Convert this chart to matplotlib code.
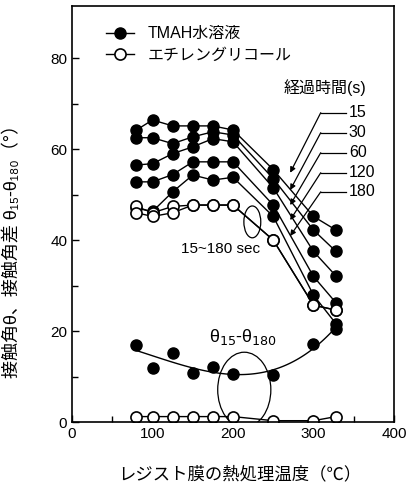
import matplotlib
matplotlib.use("Agg")
import matplotlib.pyplot as plt
import numpy as np
from matplotlib.patches import Ellipse

plt.rcParams['font.family'] = ['Liberation Sans', 'Noto Sans CJK JP', 'DejaVu Sans']
plt.rcParams['axes.unicode_minus'] = False

# heat treatment temperature (degC)
temps = [80, 100, 125, 150, 175, 200, 250, 300, 328]

# TMAH solution contact angle for each elapsed time (s)
tmah_15 = [64.2, 66.4, 65.1, 65.1, 65.1, 64.2, 55.5, 45.2, 42.2]
tmah_30 = [62.5, 62.5, 61.2, 62.7, 63.8, 63.1, 53.5, 42.2, 37.5]
tmah_60 = [56.5, 56.8, 59.0, 60.5, 62.3, 61.6, 51.5, 37.5, 32.1]
tmah_120 = [52.8, 52.8, 54.4, 57.2, 57.2, 57.2, 47.7, 32.0, 26.2]
tmah_180 = [47.0, 46.3, 50.6, 54.3, 53.2, 53.8, 45.2, 27.9, 21.6]

# ethylene glycol, 15~180 s (two nearly identical curves)
eg_a = [47.4, 46.0, 47.4, 47.7, 47.7, 47.7, 40.0, 25.7, 24.6]
eg_b = [46.0, 45.2, 46.0, 47.7, 47.7, 47.7, 40.0, 25.7, 24.6]

# contact angle difference theta15 - theta180
tmah_diff = [16.9, 11.9, 15.1, 10.7, 12.2, 10.5, 10.3, 17.2, 20.5]
eg_diff = [1.2, 1.2, 1.2, 1.2, 1.2, 1.2, 0.3, 0.3, 1.2]

time_labels = ["15", "30", "60", "120", "180"]

fig = plt.figure(figsize=(4.07, 4.84), dpi=100)
ax = fig.add_axes([0.177, 0.128, 0.791, 0.860])

filled = dict(color="black", marker="o", ms=8, lw=1.0, mfc="black", mec="black")
opened = dict(color="black", marker="o", ms=8, lw=1.0, mfc="white", mec="black", mew=1.2)

for s in [tmah_15, tmah_30, tmah_60, tmah_120, tmah_180]:
    ax.plot(temps, s, **filled)
ax.plot(temps, eg_a, **opened)
ax.plot(temps, eg_b, **opened)

# difference: points + smooth trend
ax.plot(temps, tmah_diff, "o", color="black", ms=8)
coef = np.polyfit(temps, tmah_diff, 3)
xs = np.linspace(temps[0], temps[-1], 100)
ax.plot(xs, np.polyval(coef, xs), color="black", lw=1.0)
ax.plot(temps, eg_diff, **opened)

# legend (hand placed like the original)
ax.plot([], [], label="TMAH水溶液", **filled)
ax.plot([], [], label="エチレングリコール", **opened)
ax.legend(loc="upper left", bbox_to_anchor=(0.06, 0.985), frameon=False,
          fontsize=11.5, handlelength=1.8, handletextpad=0.8, labelspacing=0.4)

# elapsed time annotations
ax.text(314, 73.5, "経過時間(s)", fontsize=11.5, ha="center", va="center")
label_y = [68.0, 63.6, 59.2, 54.8, 50.6]
tip_y = [54.8, 51.0, 47.7, 44.4, 40.9]
for lab, ly, ty in zip(time_labels, label_y, tip_y):
    ax.text(344, ly, lab, fontsize=11.5, ha="left", va="center")
    ax.plot([341, 309], [ly, ly], color="black", lw=0.9)
    ax.annotate("", xy=(271, ty), xytext=(309, ly),
                arrowprops=dict(arrowstyle="-|>", color="black", lw=0.9,
                                mutation_scale=8, shrinkA=0, shrinkB=0))

ax.text(185, 38.0, "15~180 sec", fontsize=11, ha="center", va="center")
ax.add_patch(Ellipse((224, 44), 21, 7, fill=False, lw=0.9, ec="black"))
ax.text(212, 18.7, "θ$_{15}$-θ$_{180}$", fontsize=13, ha="center", va="center")
ax.add_patch(Ellipse((214, 7.1), 66, 16.5, fill=False, lw=0.9, ec="black"))

ax.set_xlim(0, 400)
ax.set_ylim(0, 91.5)
ax.set_xticks([0, 100, 200, 300, 400])
ax.set_xticks([50, 150, 250, 350], minor=True)
ax.set_yticks([0, 20, 40, 60, 80])
ax.set_yticks([10, 30, 50, 70], minor=True)
ax.tick_params(which="both", direction="in", labelsize=11, top=False, right=False)
ax.tick_params(which="major", length=5, width=1.0)
ax.tick_params(which="minor", length=4, width=1.0)
for sp in ax.spines.values():
    sp.set_linewidth(1.2)

ax.set_xlabel("レジスト膜の熱処理温度（℃）", fontsize=12.5)
ax.xaxis.set_label_coords(0.52, -0.105)
ax.set_ylabel("接触角θ、接触角差 θ₁₅-θ₁₈₀（°）", fontsize=13)
ax.yaxis.set_label_coords(-0.16, 0.42)

fig.savefig("out.png", dpi=100)
